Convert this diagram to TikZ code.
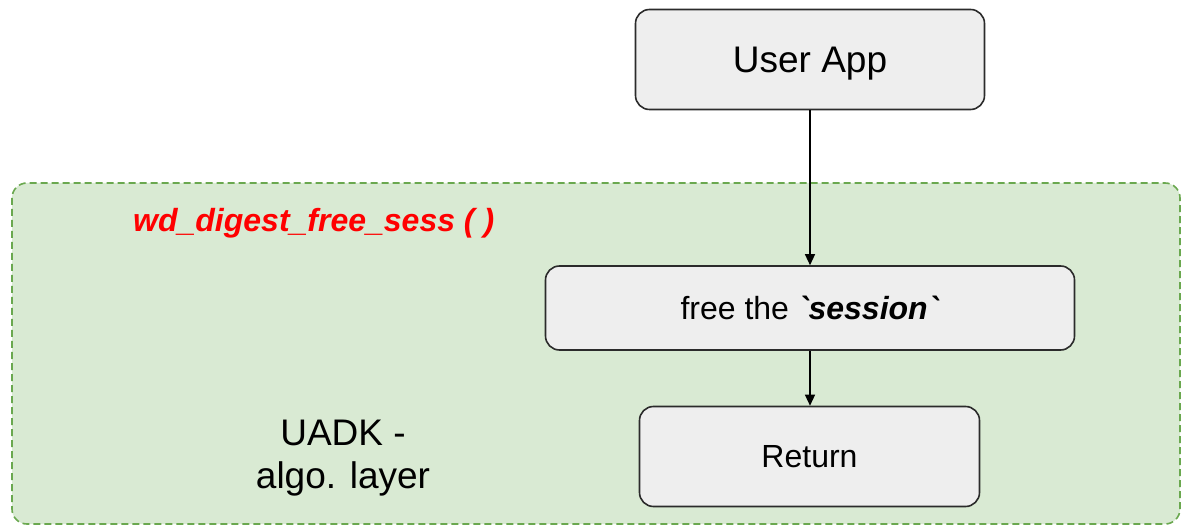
\documentclass[tikz,border=0pt]{standalone}
\usepackage{fontspec}
\setmainfont{Liberation Sans}
\usetikzlibrary{arrows.meta}
\definecolor{boxfill}{HTML}{EEEEEE}
\definecolor{boxline}{HTML}{2B2B2B}
\definecolor{layerfill}{HTML}{D9EAD3}
\definecolor{layerline}{HTML}{6AA84F}
\definecolor{titlered}{HTML}{FF0000}
\tikzset{
  stepbox/.style={draw=boxline, fill=boxfill, line width=1.6pt, rounded corners=14pt, align=center, inner sep=0pt, text depth=0pt},
  flow/.style={draw=black, line width=1.3pt, -{Triangle[length=11pt,width=10pt]}},
}
\begin{document}
\begin{tikzpicture}[x=1pt,y=-1pt]
\useasboundingbox (0,0) rectangle (1188,526);
\draw[fill=layerfill, draw=layerline, line width=1.6pt, dash pattern=on 7pt off 4pt, rounded corners=15pt] (12,183) rectangle (1180,524);
\node[stepbox, minimum width=349pt, minimum height=100pt, font=\fontsize{37}{44}\selectfont] (app) at (810,59.5) {User App};
\node[stepbox, minimum width=529pt, minimum height=84pt, font=\fontsize{32}{38}\selectfont] (free) at (810,308) {free the \textbf{\textit{\textasciigrave session\textasciigrave}}};
\node[stepbox, minimum width=340pt, minimum height=100pt, font=\fontsize{32}{38}\selectfont] (ret) at (809.5,456.5) {Return};
\node[anchor=west, inner sep=0pt, text=titlered, font=\fontsize{32}{38}\selectfont\bfseries\itshape] (title) at (133,223) {wd\_digest\_free\_sess ( )};
\node[align=center, inner sep=0pt, font=\fontsize{37}{43}\selectfont] (layer) at (343,458) {UADK -\\algo. layer};
\draw[flow] (app.south) -- (free.north);
\draw[flow] (free.south) -- (free.south |- ret.north);
\end{tikzpicture}
\end{document}
